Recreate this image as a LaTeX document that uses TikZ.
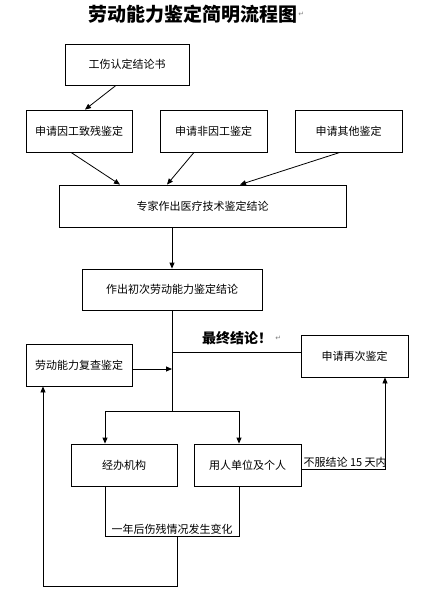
\documentclass[tikz,border=0pt]{standalone}
\usepackage{fontspec}
\newfontfamily\cjk{Noto Sans CJK SC}
\newfontfamily\symf{DejaVu Sans}
\usetikzlibrary{arrows.meta,calc}
\begin{document}
\begin{tikzpicture}[x=1pt,y=-1pt,
  box/.style={draw,line width=0.8pt,inner sep=0pt,font=\cjk\fontsize{11}{13}\selectfont},
  arr/.style={line width=0.8pt,-{Triangle[length=6pt,width=5pt]}},
  ln/.style={line width=0.8pt},
  lbl/.style={inner sep=1pt,font=\cjk\fontsize{11}{13}\selectfont},
  pm/.style={text=gray,font=\symf\fontsize{7}{8}\selectfont,inner sep=0pt}]
\useasboundingbox[fill=white] (0,0) rectangle (441,594);
% title
\node[font=\cjk\bfseries\fontsize{19}{21}\selectfont,inner sep=0pt] (title) at (192.5,14) {劳动能力鉴定简明流程图};
\node[pm,anchor=west] (tpm) at ([xshift=1pt]title.east) {↵};
% boxes
\node[box,minimum width=124,minimum height=41] (b1) at (127,64.5) {工伤认定结论书};
\node[box,minimum width=106,minimum height=42] (b2) at (79,131) {申请因工致残鉴定};
\node[box,minimum width=107,minimum height=42] (b3) at (213.5,131) {申请非因工鉴定};
\node[box,minimum width=107,minimum height=42] (b4) at (348.5,131) {申请其他鉴定};
\node[box,minimum width=287,minimum height=42] (b5) at (202.5,206) {专家作出医疗技术鉴定结论};
\node[box,minimum width=180,minimum height=41] (b6) at (172,289.5) {作出初次劳动能力鉴定结论};
\node[box,minimum width=107,minimum height=42] (b7) at (354.5,356) {申请再次鉴定};
\node[box,minimum width=106,minimum height=42] (b8) at (79,365) {劳动能力复查鉴定};
\node[box,minimum width=106,minimum height=42] (b9) at (124,465) {经办机构};
\node[box,minimum width=107,minimum height=42] (b10) at (247.5,465) {用人单位及个人};
% final conclusion label
\node[font=\cjk\bfseries\fontsize{14}{16}\selectfont,inner sep=0pt] (fin) at (237,338) {最终结论！};
\node[pm,anchor=west] (finpm) at ([xshift=3pt]fin.east) {↵};
% arrows top part
\draw[arr] ([xshift=-11pt]b1.south) -- ([xshift=6pt]b2.north);
\draw[arr] ([xshift=-8pt]b2.south) -- ([xshift=-82.5pt]b5.north);
\draw[arr] ([xshift=-19.5pt]b3.south) -- ([xshift=-35.5pt]b5.north);
\draw[arr] ([xshift=-8.5pt]b4.south) -- ([xshift=37.5pt]b5.north);
\draw[arr] (b6.north |- b5.south) -- (b6.north);
% trunk
\coordinate (j1) at (172,411);
\draw[ln] (b6.south) -- (j1);
\coordinate (b7w) at ([yshift=4pt]b7.west);
\draw[ln] (b6.south |- b7w) -- (b7w);
\coordinate (b8e) at ([yshift=-4pt]b8.east);
\draw[arr] (b8e) -- (b8e -| j1);
\coordinate (b9n) at ([xshift=-19pt]b9.north);
\coordinate (b10n) at ([xshift=-8.5pt]b10.north);
\coordinate (jl) at (b9n |- j1);
\coordinate (jr) at (b10n |- j1);
\draw[ln] (jl) -- (jr);
\draw[arr] (jl) -- (b9n);
\draw[arr] (jr) -- (b10n);
% re-appraisal path
\coordinate (b10e) at ([yshift=-4pt]b10.east);
\coordinate (b7s) at ([xshift=30.5pt]b7.south);
\coordinate (r1) at (b7s |- b10e);
\draw[arr] (b10e) -- (r1) -- (b7s);
\node[lbl,anchor=south west] (l15) at ([xshift=1pt,yshift=0.5pt]b10e) {不服结论 15 天内};
% review path
\coordinate (b9s) at ([xshift=-19pt]b9.south);
\coordinate (b10s) at ([xshift=-8.5pt]b10.south);
\coordinate (u1) at (b9s |- 0,536);
\coordinate (u2) at (b10s |- 0,536);
\draw[ln] (b9s) -- (u1) -- (u2) -- (b10s);
\node[lbl,anchor=south] (lyr) at (172,535.5) {一年后伤残情况发生变化};
\coordinate (d1) at (177,536);
\coordinate (d2) at (177,586);
\coordinate (b8s) at ([xshift=-36pt]b8.south);
\coordinate (d3) at (b8s |- d2);
\draw[arr] (d1) -- (d2) -- (d3) -- (b8s);
\end{tikzpicture}
\end{document}
